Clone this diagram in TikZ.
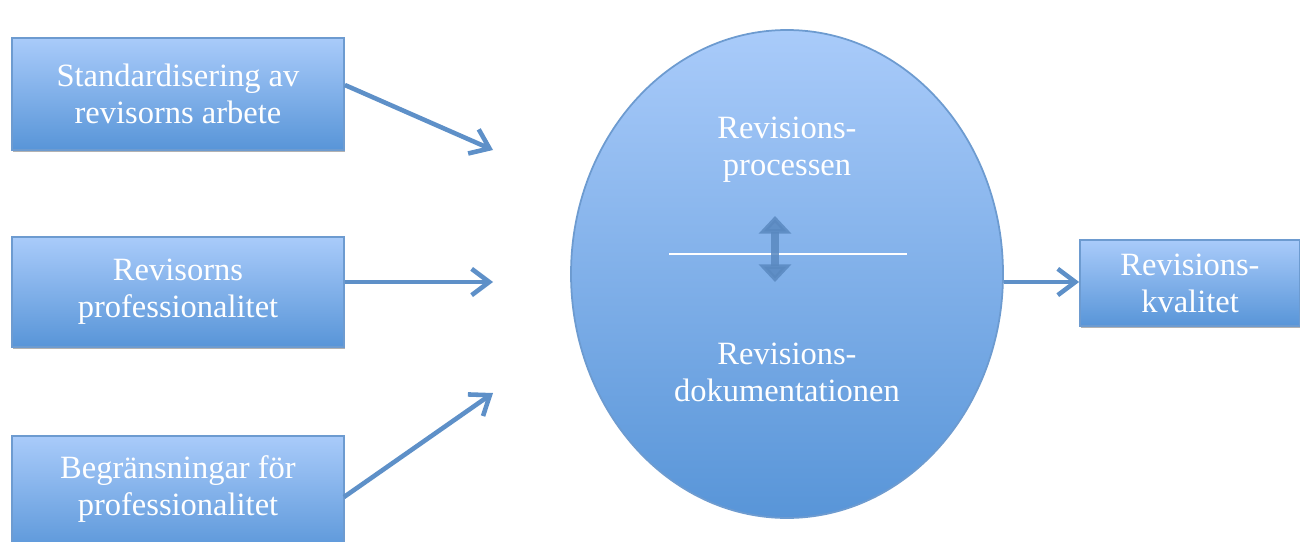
\documentclass[tikz,border=0pt]{standalone}
\usepackage{fontspec}
\setmainfont{Liberation Serif}
\usetikzlibrary{arrows.meta,shadows,shapes.geometric}
\definecolor{boxtop}{HTML}{A9CBFA}
\definecolor{boxbot}{HTML}{5895D8}
\definecolor{boxedge}{HTML}{6D9BD0}
\definecolor{arrowblue}{HTML}{5E90C8}
\definecolor{midarrow}{HTML}{5A89C0}
\begin{document}
\begin{tikzpicture}[x=0.02cm,y=-0.02cm,
  label text/.style={text=white,align=center,font=\fontsize{18.5}{21}\selectfont},
  factor/.style={draw=boxedge,line width=1pt,top color=boxtop,bottom color=boxbot,
    label text,inner sep=0pt,
    drop shadow={shadow xshift=0.6pt,shadow yshift=-1.2pt,fill=black,opacity=0.3}},
  link/.style={draw=arrowblue,line width=2.6pt,
    -{Straight Barb[length=10pt,width=15pt,line width=2.6pt]}},
  core/.style={ellipse,draw=boxedge,line width=1pt,top color=boxtop,bottom color=boxbot,
    inner sep=0pt}]
\useasboundingbox (0,0) rectangle (1300,541);

% input factors
\node[factor,minimum width=332*0.02cm,minimum height=112*0.02cm] (std) at (178,94)
  {Standardisering av\\revisorns arbete};
\node[factor,minimum width=332*0.02cm,minimum height=110*0.02cm] (prof) at (178,292)
  {Revisorns\\professionalitet};
\node[factor,minimum width=332*0.02cm,minimum height=120*0.02cm,anchor=north] (lim) at (178,435) {};
\node[label text] (limtxt) at (178,489)
  {Begränsningar för\\professionalitet};

% central process
\node[core,minimum width=432*0.02cm,minimum height=488*0.02cm] (proc) at (787,274) {};
\node[label text] (ptxt) at (787,150)
  {Revisions-\\processen};
\node[label text] (dtxt) at (787,372)
  {Revisions-\\dokumentationen};
\coordinate (sepl) at (669,254);
\coordinate (sepr) at (907,254);
\draw[white,line width=1.2pt] (sepl) -- (sepr);
\coordinate (mtop) at (775,216);
\coordinate (mbot) at (775,282);
\draw[midarrow,opacity=0.85,line width=5pt,
  {Triangle[length=10pt,width=18pt]}-{Triangle[length=10pt,width=18pt]}] (mtop) -- (mbot);

% outcome
\node[factor,minimum width=220*0.02cm,minimum height=86*0.02cm] (qual) at (1190,283)
  {Revisions-\\kvalitet};

% connectors
\coordinate (in1) at (493,150);
\coordinate (in2) at (493,282);
\coordinate (in3) at (493,393);
\draw[link] (std.east) ++(0,-9) coordinate (s1) (s1) -- (in1);
\draw[link] (prof.east) ++(0,-10) coordinate (s2) (s2) -- (in2);
\coordinate (s3) at (344,497);
\draw[link] (s3) -- (in3);
\draw[link] (proc.east |- qual.west) ++(0,-1) coordinate (s4) (s4) -- (qual.west |- s4);
\end{tikzpicture}
\end{document}
